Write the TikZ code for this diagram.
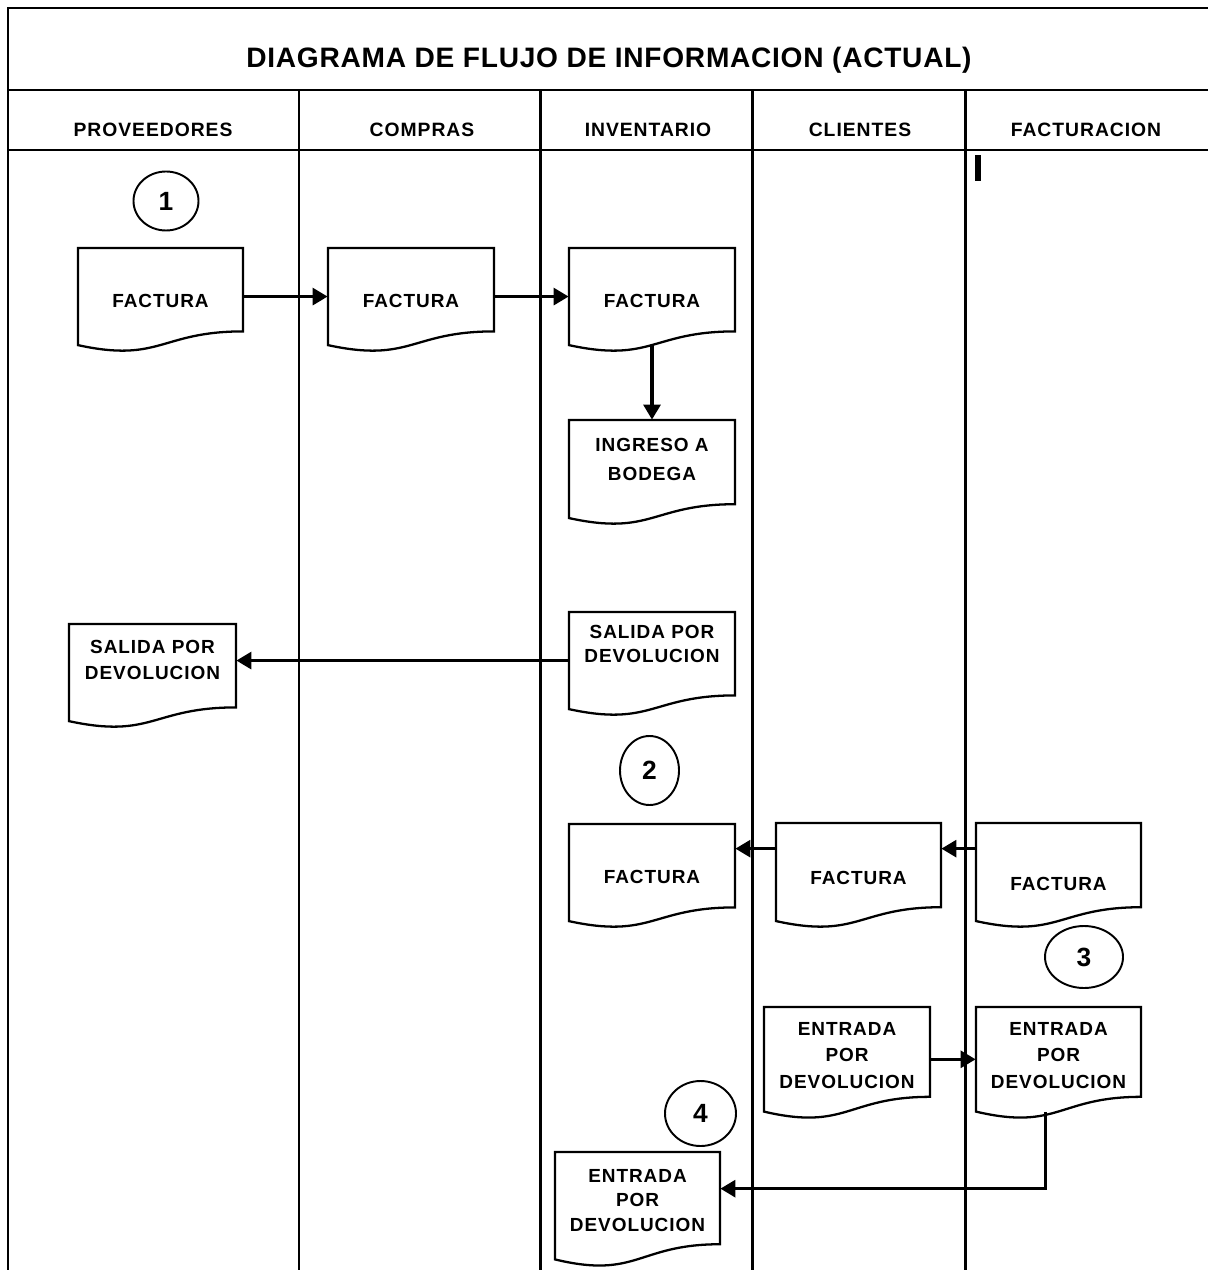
\documentclass[tikz,border=0pt]{standalone}
\usepackage{fontspec}
\setmainfont{Liberation Sans}
\usetikzlibrary{arrows.meta,calc,shapes.geometric}

\tikzset{
  frame/.style={line width=1.7pt},
  docline/.style={draw=black, fill=white, line width=1.3pt, line join=miter},
  docarea/.style={shape=rectangle, inner sep=0pt},
  doctext/.style={font=\bfseries\fontsize{10.8}{14}\selectfont\addfontfeatures{LetterSpace=5},
    align=center, inner sep=0pt},
  headtext/.style={font=\bfseries\fontsize{11}{12}\selectfont\addfontfeatures{LetterSpace=5},
    inner sep=0pt},
  titletext/.style={font=\bfseries\fontsize{16}{18}\selectfont\addfontfeatures{LetterSpace=2.6},
    inner sep=0pt},
  flow/.style={line width=2pt, line join=miter, -{Triangle[length=8.5pt,width=9.5pt]}},
  stepnum/.style={ellipse, draw, line width=1.1pt, inner sep=0pt,
    font=\bfseries\fontsize{15}{17}\selectfont},
}

% document symbol: name, left, top, width, height, text centre y, text
\newcommand\flowdoc[7]{%
  \pgfmathsetmacro\fdR{#2+#4}%
  \pgfmathsetmacro\fdM{#2+0.5*#4}%
  \pgfmathsetmacro\fdB{#3+0.802*#5}%
  \pgfmathsetmacro\fdC{#3+1.107*#5}%
  \pgfmathsetmacro\fdL{#3+0.934*#5}%
  \pgfmathsetmacro\fdY{#3+0.467*#5}%
  \draw[docline] (#2,#3) -- (\fdR,#3) -- (\fdR,\fdB)
    .. controls (\fdM,\fdB) and (\fdM,\fdC) .. (#2,\fdL) -- cycle;
  \node[docarea, minimum width={#4*0.02cm}, minimum height={0.934*#5*0.02cm}]
    (#1) at (\fdM,\fdY) {};
  \node[doctext] (#1-label) at (\fdM,#6) {#7};
}

\begin{document}
\begin{tikzpicture}[x=0.02cm, y=-0.02cm]
\useasboundingbox (0,0) rectangle (1208,1270);

% table frame
\draw[frame] (8,1270) -- (8,8) -- (1208,8);
\draw[frame] (8,90) -- (1208,90);
\draw[frame] (8,150) -- (1208,150);
\foreach \x in {299,540,752,965} \draw[frame] (\x,90) -- (\x,1270);
\fill (975,155) rectangle (981,181);

% title and lane headers
\node[titletext] (title) at (609,60) {DIAGRAMA  DE  FLUJO  DE  INFORMACION  (ACTUAL)};
\node[headtext] (hprov) at (153,130) {PROVEEDORES};
\node[headtext] (hcomp) at (422,130) {COMPRAS};
\node[headtext] (hinv)  at (648,130) {INVENTARIO};
\node[headtext] (hcli)  at (860,130) {CLIENTES};
\node[headtext] (hfac)  at (1086,130) {FACTURACION};

% documents
\flowdoc{p1}{78}{248}{165}{104}{301}{FACTURA}
\flowdoc{c1}{328}{248}{166}{104}{301}{FACTURA}
\flowdoc{i1}{569}{248}{166}{104}{301}{FACTURA}
\flowdoc{i2}{569}{420}{166}{105}{459.5}{INGRESO A\\[2.4pt]BODEGA}
\flowdoc{i3}{569}{612}{166}{104}{644}{SALIDA POR\\DEVOLUCION}
\flowdoc{p2}{69}{624}{167}{104}{660}{SALIDA POR\\[0.7pt]DEVOLUCION}
\flowdoc{i4}{569}{824}{166}{104}{877}{FACTURA}
\flowdoc{cl1}{776}{823}{165}{105}{878}{FACTURA}
\flowdoc{f1}{976}{823}{165}{105}{884}{FACTURA}
\flowdoc{cl2}{764}{1007}{166}{112}{1055.5}{ENTRADA\\[1pt]POR\\[1pt]DEVOLUCION}
\flowdoc{f2}{976}{1007}{165}{112}{1055.5}{ENTRADA\\[1pt]POR\\[1pt]DEVOLUCION}
\flowdoc{i5}{555}{1152}{165}{115}{1200.5}{ENTRADA\\POR\\DEVOLUCION}

% step markers
\node[stepnum, minimum width=65*0.02cm, minimum height=59*0.02cm] (n1) at (166,201) {1};
\node[stepnum, minimum width=59*0.02cm, minimum height=69*0.02cm] (n2) at (649.5,770.5) {2};
\node[stepnum, minimum width=78*0.02cm, minimum height=62*0.02cm] (n3) at (1084,957) {3};
\node[stepnum, minimum width=71*0.02cm, minimum height=65*0.02cm] (n4) at (700.5,1113.5) {4};

% connectors
\draw[flow] (p1.east) -- (p1.east -| c1.west);
\draw[flow] (c1.east) -- (c1.east -| i1.west);
\draw[flow] (i1.south) -- (i2.north);
\draw[flow] (i3.west) -- (i3.west -| p2.east);
\coordinate (e1) at ($(cl1.north west)+(0,26)$);
\draw[flow] (e1) -- (e1 -| i4.east);
\coordinate (e2) at ($(f1.north west)+(0,26)$);
\draw[flow] (e2) -- (e2 -| cl1.east);
\draw[flow] (cl2.east) -- (cl2.east -| f2.west);
\coordinate (h0) at ($(f2.south)+(-13,0)$);
\coordinate (h1) at ($(i5.north east)+(0,37)$);
\draw[flow] (h0) |- (h1);
\end{tikzpicture}
\end{document}
